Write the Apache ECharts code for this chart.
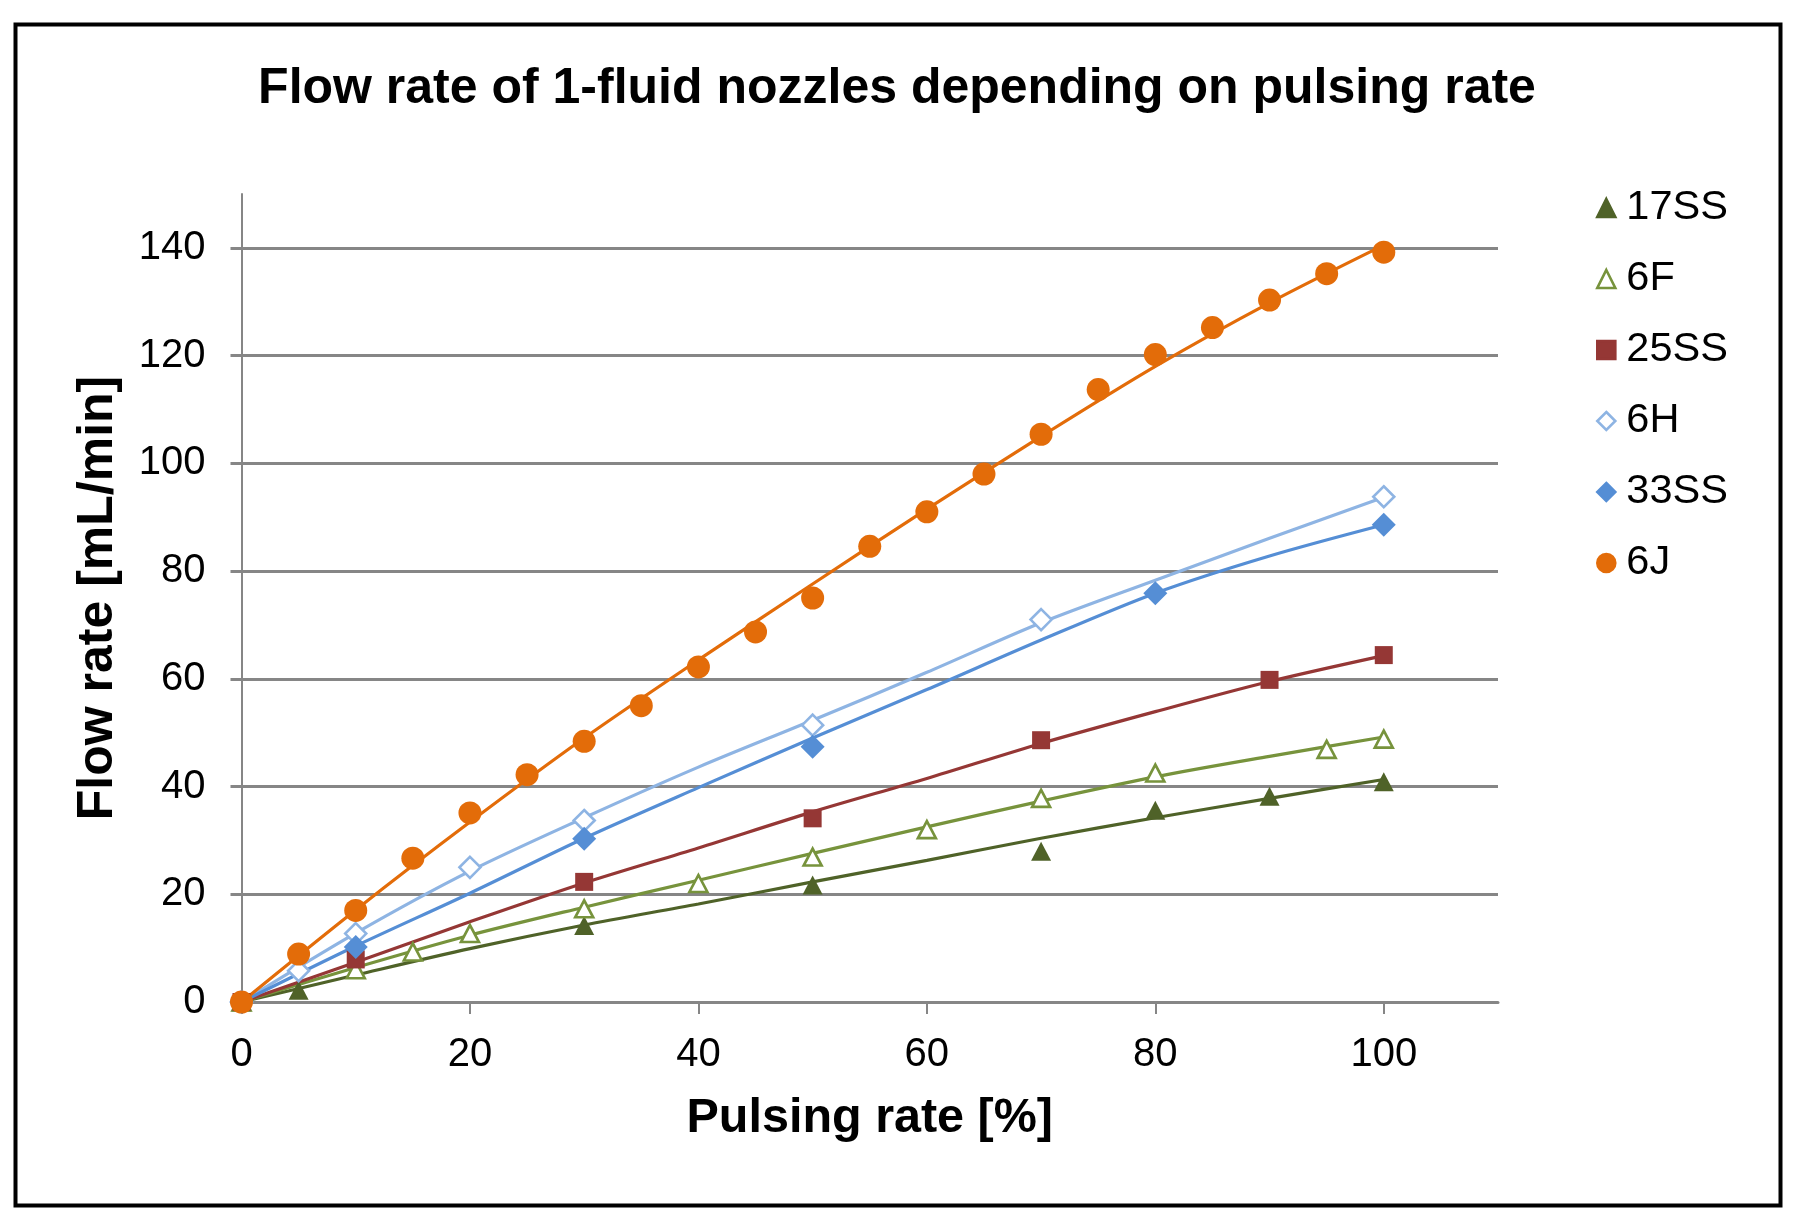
<!DOCTYPE html>
<html><head><meta charset="utf-8">
<script src="https://cdn.jsdelivr.net/npm/echarts@6/dist/echarts.min.js"></script>
<style>html,body{margin:0;padding:0;background:#fff;}#c{width:1794px;height:1217px;}</style>
</head><body><div id="c"></div>
<script>
// ---- data ----
const xTickValues = [0, 20, 40, 60, 80, 100];
const yTickValues = [0, 20, 40, 60, 80, 100, 120, 140];
const seriesNames = ['17SS', '6F', '25SS', '6H', '33SS', '6J'];

// measured points [pulsing rate %, flow rate mL/min]
const pts17SS = [[0,0],[5,2.2],[30,14.2],[50,21.7],[70,28.0],[80,35.6],[90,38.2],[100,40.9]];
const pts6F   = [[0,0],[10,6.0],[15,9.3],[20,12.7],[30,17.3],[40,22.0],[50,26.9],[60,32.0],[70,37.8],[80,42.5],[95,46.9],[100,48.8]];
const pts25SS = [[0,0],[10,7.9],[30,22.3],[50,34.1],[70,48.6],[90,59.8],[100,64.4]];
const pts6H   = [[0,0],[5,5.8],[10,12.7],[20,25.0],[30,33.7],[50,51.4],[70,71.0],[100,93.8]];
const pts33SS = [[0,0],[10,10.2],[30,30.3],[50,47.4],[80,75.9],[100,88.6]];
const pts6J   = [[0,0],[5,8.9],[10,17.0],[15,26.7],[20,35.1],[25,42.2],[30,48.4],[35,55.0],[40,62.2],[45,68.7],[50,75.0],
                 [55,84.6],[60,91.0],[65,98.0],[70,105.4],[75,113.7],[80,120.2],[85,125.2],[90,130.3],[95,135.2],[100,139.2]];

// trend lines at every 10 %
const fitX    = [0, 10, 20, 30, 40, 50, 60, 70, 80, 90, 100];
const fit17SS = [0, 5.0, 9.9, 14.3, 18.2, 22.3, 26.3, 30.4, 34.2, 37.8, 41.3];
const fit6F   = [0, 6.4, 12.4, 17.6, 22.6, 27.6, 32.5, 37.3, 41.8, 45.6, 49.2];
const fit25SS = [0, 7.4, 14.9, 22.1, 28.6, 35.3, 41.5, 48.0, 53.9, 59.5, 64.3];
const fit6H   = [0, 12.8, 24.3, 34.2, 43.6, 52.3, 61.2, 70.4, 78.3, 86.1, 93.7];
const fit33SS = [0, 10.4, 20.2, 30.4, 39.8, 49.0, 58.0, 67.2, 75.9, 82.8, 88.6];
const fit6J   = [0, 17.1, 33.4, 49.0, 63.5, 77.6, 91.5, 105.0, 118.0, 129.8, 140.5];

// ---- styles ----
const colors = {'17SS':'#4F6228','6F':'#77933C','25SS':'#953735','6H':'#8EB4E3','33SS':'#558ED5','6J':'#E36C09'};
const FONT = 'Liberation Sans, Arial, sans-serif';
const GRID = '#868686';

function scatter(name, data, symbol, size, hollow) {
  const c = colors[name];
  return {
    name, type: 'scatter', data, symbol, symbolSize: size, clip: false, z: 5,
    itemStyle: hollow ? {color: '#fff', borderColor: c, borderWidth: 2.6, opacity: 1}
                      : {color: c, borderColor: c, borderWidth: 0, opacity: 1},
    emphasis: {disabled: true}
  };
}
function trend(name, ys) {
  return {
    name: name + ' fit', type: 'line', data: fitX.map((x, i) => [x, ys[i]]),
    smooth: 0.3, showSymbol: false, symbol: 'none', z: 3,
    lineStyle: {color: colors[name], width: 3.2}, emphasis: {disabled: true}, silent: true
  };
}

const chart = echarts.init(document.getElementById('c'), null, {renderer: 'canvas'});
chart.setOption({
  backgroundColor: '#fff',
  animation: false,
  title: {
    text: 'Flow rate of 1-fluid nozzles depending on pulsing rate',
    left: 'center', top: 59,
    textStyle: {fontFamily: FONT, fontWeight: 'bold', fontSize: 50, color: '#000'}
  },
  graphic: [{
    type: 'rect', left: 13, top: 22, z: 100, silent: true,
    shape: {width: 1765, height: 1181},
    style: {fill: 'none', stroke: '#000', lineWidth: 4}
  }],
  legend: {
    data: seriesNames, orient: 'vertical', left: 1591, top: 182,
    itemWidth: 18, itemHeight: 18, itemGap: 29,
    textStyle: {fontFamily: FONT, fontSize: 41.5, color: '#000', padding: [0, 0, 0, 6]},
    itemStyle: {borderWidth: 2.6}
  },
  grid: {left: 241.5, right: 296, top: 194, bottom: 215, containLabel: false},
  xAxis: {
    type: 'value', min: 0, max: 110, interval: 20,
    name: 'Pulsing rate [%]', nameLocation: 'middle', nameGap: 92,
    nameTextStyle: {fontFamily: FONT, fontWeight: 'bold', fontSize: 48.5, color: '#000'},
    axisLine: {show: true, onZero: false, lineStyle: {color: GRID, width: 3}},
    axisTick: {show: true, inside: false, length: 12, customValues: xTickValues, lineStyle: {color: GRID, width: 2}},
    axisLabel: {customValues: xTickValues, margin: 33, fontFamily: FONT, fontSize: 40, color: '#000'},
    splitLine: {show: false}
  },
  yAxis: {
    type: 'value', min: 0, max: 150, interval: 20,
    name: 'Flow rate [mL/min]', nameLocation: 'middle', nameGap: 118,
    nameTextStyle: {fontFamily: FONT, fontWeight: 'bold', fontSize: 50, color: '#000'},
    axisLine: {show: true, lineStyle: {color: GRID, width: 2}},
    axisTick: {show: true, inside: false, length: 11, customValues: yTickValues, lineStyle: {color: GRID, width: 3}},
    axisLabel: {customValues: yTickValues, margin: 36, fontFamily: FONT, fontSize: 40, color: '#000'},
    splitLine: {show: true, lineStyle: {color: GRID, width: 3}}
  },
  series: [
    trend('17SS', fit17SS), trend('6F', fit6F), trend('25SS', fit25SS),
    trend('6H', fit6H), trend('33SS', fit33SS), trend('6J', fit6J),
    scatter('17SS', pts17SS, 'triangle', [20, 19], false),
    scatter('6F', pts6F, 'triangle', [18, 17], true),
    scatter('25SS', pts25SS, 'rect', 18, false),
    scatter('6H', pts6H, 'diamond', [21, 21], true),
    scatter('33SS', pts33SS, 'diamond', [24, 24], false),
    scatter('6J', pts6J, 'circle', 23, false)
  ]
});
</script></body></html>
